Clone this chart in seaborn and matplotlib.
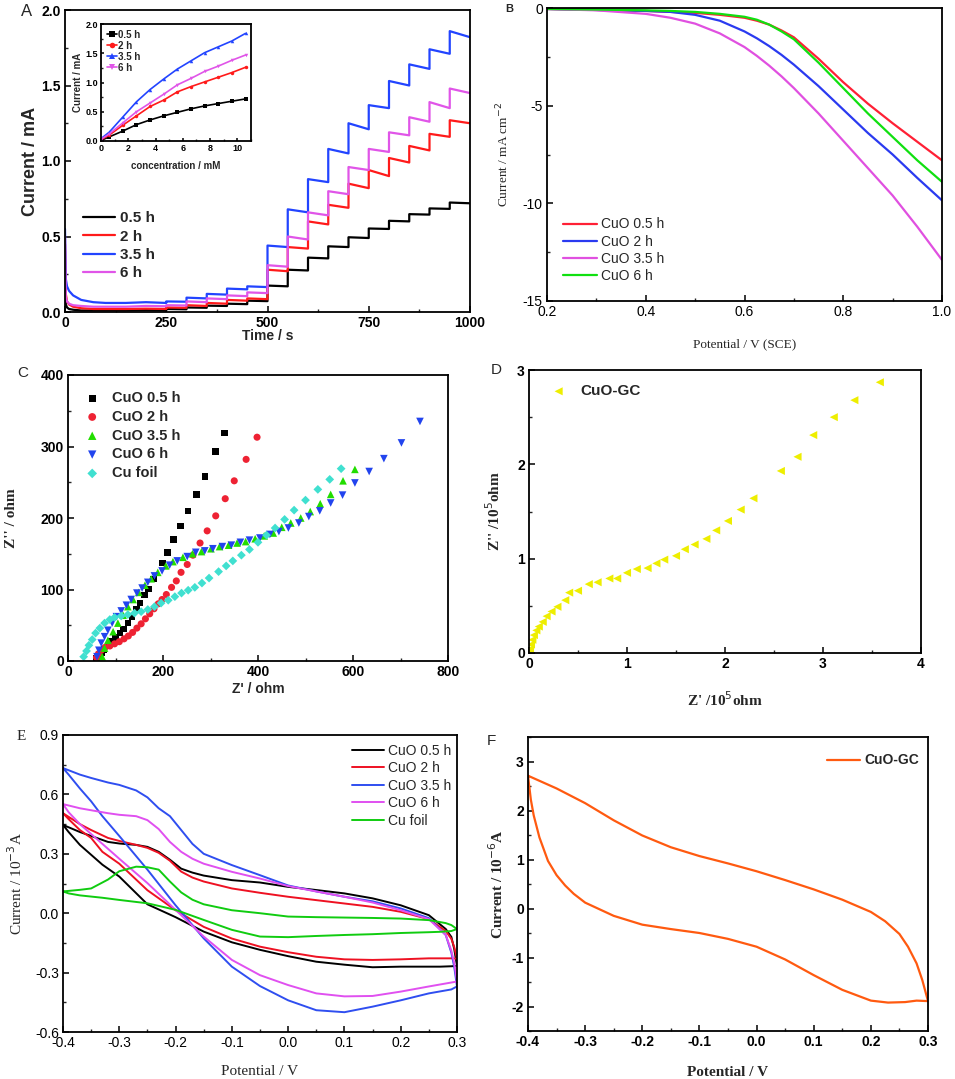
import matplotlib
matplotlib.use("Agg")
import matplotlib.pyplot as plt
import seaborn as sns
from matplotlib.ticker import MultipleLocator

# ---------------- DATA ----------------
# A: chronoamperometry, transient part then 50 s steps
a_t_early = [0, 2, 5, 10, 20, 40, 70, 100, 150]
a_black_early = [0.30, 0.05, 0.03, 0.02, 0.015, 0.01, 0.01, 0.01, 0.01]
a_red_early = [0.45, 0.12, 0.07, 0.05, 0.035, 0.025, 0.02, 0.02, 0.02]
a_blue_early = [0.55, 0.22, 0.17, 0.14, 0.11, 0.08, 0.065, 0.06, 0.06]
a_mag_early = [0.50, 0.10, 0.07, 0.055, 0.045, 0.04, 0.035, 0.035, 0.035]

a_step_t = [200, 250, 300, 350, 400, 450, 500, 550, 600, 650, 700, 750, 800, 850, 900, 950]
a_black_start = [0.012, 0.02, 0.03, 0.042, 0.055, 0.075, 0.175, 0.28, 0.36, 0.435, 0.495, 0.553, 0.604, 0.648, 0.686, 0.725]
a_black_end = [0.01, 0.018, 0.028, 0.04, 0.052, 0.072, 0.17, 0.275, 0.355, 0.43, 0.49, 0.55, 0.60, 0.645, 0.683, 0.72]
a_red_start = [0.022, 0.03, 0.045, 0.06, 0.08, 0.09, 0.28, 0.43, 0.60, 0.71, 0.85, 0.94, 1.02, 1.10, 1.18, 1.27]
a_red_end = [0.02, 0.028, 0.04, 0.055, 0.075, 0.085, 0.27, 0.42, 0.58, 0.69, 0.82, 0.90, 0.99, 1.07, 1.16, 1.25]
a_blue_start = [0.065, 0.07, 0.095, 0.12, 0.155, 0.17, 0.44, 0.68, 0.88, 1.08, 1.25, 1.37, 1.53, 1.64, 1.74, 1.86]
a_blue_end = [0.06, 0.068, 0.09, 0.115, 0.15, 0.165, 0.43, 0.66, 0.86, 1.05, 1.21, 1.35, 1.50, 1.61, 1.71, 1.82]
a_mag_start = [0.04, 0.045, 0.07, 0.09, 0.11, 0.13, 0.31, 0.50, 0.66, 0.80, 0.96, 1.08, 1.19, 1.29, 1.39, 1.48]
a_mag_end = [0.038, 0.043, 0.065, 0.085, 0.105, 0.125, 0.30, 0.48, 0.64, 0.78, 0.94, 1.06, 1.17, 1.26, 1.35, 1.45]
a_labels = ["0.5 h", "2 h", "3.5 h", "6 h"]

# A inset: calibration
ins_conc = [0, 0.6, 1.6, 2.6, 3.6, 4.6, 5.6, 6.6, 7.6, 8.6, 9.6, 10.6]
ins_black = [0.01, 0.07, 0.17, 0.28, 0.36, 0.43, 0.49, 0.55, 0.60, 0.64, 0.68, 0.72]
ins_red = [0.02, 0.10, 0.27, 0.43, 0.59, 0.70, 0.84, 0.93, 1.01, 1.09, 1.17, 1.26]
ins_blue = [0.04, 0.15, 0.41, 0.67, 0.88, 1.06, 1.23, 1.37, 1.51, 1.61, 1.71, 1.84]
ins_mag = [0.03, 0.12, 0.31, 0.50, 0.65, 0.80, 0.96, 1.07, 1.19, 1.28, 1.38, 1.47]

# B: LSV
b_pot = [0.2, 0.3, 0.4, 0.45, 0.5, 0.55, 0.6, 0.625, 0.65, 0.675, 0.7, 0.725, 0.75, 0.8, 0.85, 0.9, 0.95, 1.0]
b_05h = [-0.05, -0.1, -0.15, -0.2, -0.25, -0.35, -0.5, -0.65, -0.85, -1.15, -1.5, -2.05, -2.6, -3.8, -4.9, -5.9, -6.85, -7.8]
b_2h = [-0.05, -0.1, -0.15, -0.2, -0.35, -0.65, -1.2, -1.55, -1.95, -2.4, -2.9, -3.45, -4.0, -5.2, -6.4, -7.5, -8.7, -9.85]
b_35h = [-0.05, -0.12, -0.3, -0.5, -0.8, -1.3, -2.0, -2.45, -2.95, -3.5, -4.1, -4.75, -5.4, -6.8, -8.2, -9.6, -11.2, -12.9]
b_6h = [-0.05, -0.08, -0.12, -0.15, -0.2, -0.3, -0.45, -0.6, -0.85, -1.2, -1.6, -2.2, -2.8, -4.1, -5.4, -6.6, -7.8, -8.9]
b_labels = ["CuO 0.5 h", "CuO 2 h", "CuO 3.5 h", "CuO 6 h"]

# C: Nyquist plots
c_05h_x = [330, 311, 288, 270, 253, 237, 222, 210, 199, 180, 170, 161, 152, 144, 135, 126, 117, 109, 100, 92, 84, 76, 70, 64, 60]
c_05h_y = [319, 293, 258, 233, 210, 189, 170, 152, 137, 115, 101, 92, 81, 72, 62, 53, 45, 39, 33, 27, 21, 16, 11, 7, 4]
c_2h_x = [398, 375, 350, 331, 311, 293, 278, 263, 251, 238, 228, 218, 207, 198, 190, 181, 172, 163, 154, 145, 136, 127, 118, 108, 98, 88, 78, 70, 64, 60]
c_2h_y = [313, 282, 252, 227, 203, 182, 165, 148, 135, 124, 112, 103, 93, 86, 80, 73, 66, 59, 52, 46, 40, 35, 31, 27, 24, 21, 19, 15, 10, 5]
c_35h_x = [604, 579, 553, 531, 510, 490, 469, 450, 432, 413, 394, 374, 356, 338, 319, 301, 281, 262, 242, 221, 206, 189, 175, 162, 149, 137, 126, 116, 105, 95, 84, 77, 72]
c_35h_y = [268, 252, 233, 220, 209, 200, 193, 187, 179, 175, 171, 167, 165, 162, 160, 157, 153, 150, 145, 139, 133, 124, 115, 106, 96, 86, 76, 64, 53, 41, 29, 18, 6]
c_6h_x = [741, 702, 665, 634, 604, 578, 553, 530, 507, 486, 464, 444, 425, 404, 382, 363, 344, 325, 305, 288, 269, 251, 230, 214, 198, 182, 168, 156, 145, 133, 123, 112, 102, 93, 84, 77, 70, 65, 61]
c_6h_y = [335, 305, 283, 265, 249, 232, 221, 210, 202, 193, 186, 181, 177, 172, 169, 166, 162, 160, 157, 154, 152, 146, 140, 134, 126, 119, 110, 102, 95, 86, 78, 70, 62, 53, 43, 34, 25, 15, 6]
c_foil_x = [575, 551, 526, 500, 476, 456, 436, 418, 400, 382, 365, 347, 333, 317, 297, 282, 267, 253, 239, 225, 211, 196, 182, 168, 154, 140, 126, 112, 98, 88, 77, 67, 58, 51, 44, 39, 33]
c_foil_y = [269, 254, 240, 225, 211, 198, 186, 176, 166, 156, 148, 140, 133, 125, 116, 109, 103, 99, 95, 90, 85, 81, 76, 72, 69, 67, 65, 63, 61, 58, 53, 46, 39, 30, 22, 14, 6]

# D: Nyquist CuO-GC (10^5 ohm)
d_x = [3.58, 3.32, 3.11, 2.90, 2.74, 2.57, 2.29, 2.16, 2.03, 1.91, 1.81, 1.69, 1.59, 1.50, 1.38, 1.30, 1.21, 1.10, 1.00, 0.90, 0.82, 0.70, 0.61, 0.50, 0.41, 0.37, 0.29, 0.23, 0.18, 0.14, 0.10, 0.075, 0.05, 0.034, 0.02, 0.01, 0.003]
d_y = [2.87, 2.68, 2.50, 2.31, 2.08, 1.93, 1.64, 1.52, 1.40, 1.30, 1.21, 1.15, 1.10, 1.03, 0.99, 0.95, 0.90, 0.89, 0.85, 0.79, 0.79, 0.75, 0.73, 0.66, 0.64, 0.56, 0.49, 0.44, 0.39, 0.33, 0.28, 0.24, 0.19, 0.14, 0.09, 0.04, 0.007]

# E: CV loops (anodic branch -0.4 -> 0.3, then cathodic branch 0.3 -> -0.4), 10^-3 A
e_pot_up = [-0.4, -0.37, -0.35, -0.32, -0.3, -0.27, -0.25, -0.23, -0.21, -0.19, -0.17, -0.15,
            -0.1, -0.05, 0.0, 0.05, 0.1, 0.15, 0.2, 0.25, 0.28, 0.29, 0.295, 0.3]
e_pot_down = [0.3, 0.29, 0.27, 0.25, 0.2, 0.15, 0.1, 0.05, 0.0, -0.05, -0.1, -0.15, -0.2, -0.25,
              -0.3, -0.33, -0.35, -0.37, -0.39, -0.4]
e_05h_up = [0.446, 0.41, 0.39, 0.36, 0.352, 0.345, 0.335, 0.31, 0.27, 0.225, 0.205, 0.19,
            0.167, 0.155, 0.133, 0.117, 0.10, 0.075, 0.04, -0.01, -0.08, -0.12, -0.18, -0.266]
e_05h_down = [-0.266, -0.268, -0.27, -0.27, -0.27, -0.273, -0.26, -0.245, -0.217, -0.185, -0.147, -0.093,
              -0.02, 0.045, 0.185, 0.245, 0.295, 0.345, 0.41, 0.446]
e_2h_up = [0.505, 0.45, 0.42, 0.38, 0.365, 0.345, 0.33, 0.305, 0.265, 0.21, 0.18, 0.16,
           0.125, 0.103, 0.083, 0.066, 0.049, 0.032, 0.007, -0.03, -0.09, -0.13, -0.17, -0.23]
e_2h_down = [-0.23, -0.228, -0.228, -0.228, -0.233, -0.236, -0.233, -0.22, -0.197, -0.169, -0.128, -0.069,
             0.015, 0.116, 0.25, 0.31, 0.38, 0.42, 0.475, 0.505]
e_35h_up = [0.733, 0.70, 0.683, 0.66, 0.648, 0.62, 0.585, 0.53, 0.49, 0.42, 0.35, 0.30,
            0.243, 0.192, 0.14, 0.11, 0.083, 0.06, 0.024, -0.025, -0.11, -0.2, -0.27, -0.37]
e_35h_down = [-0.37, -0.385, -0.395, -0.405, -0.44, -0.472, -0.50, -0.49, -0.44, -0.368, -0.27, -0.127,
              0.04, 0.22, 0.39, 0.49, 0.565, 0.63, 0.70, 0.733]
e_6h_up = [0.551, 0.53, 0.52, 0.505, 0.497, 0.49, 0.47, 0.425, 0.36, 0.31, 0.275, 0.25,
           0.209, 0.175, 0.137, 0.11, 0.083, 0.054, 0.015, -0.03, -0.11, -0.19, -0.25, -0.345]
e_6h_down = [-0.345, -0.35, -0.36, -0.37, -0.396, -0.418, -0.42, -0.405, -0.363, -0.313, -0.236, -0.118,
             0.017, 0.152, 0.275, 0.35, 0.40, 0.45, 0.51, 0.551]
e_foil_up = [0.11, 0.118, 0.125, 0.17, 0.212, 0.235, 0.232, 0.22, 0.16, 0.105, 0.068, 0.045,
             0.015, 0.0, -0.017, -0.02, -0.022, -0.024, -0.027, -0.035, -0.05, -0.06, -0.07, -0.08]
e_foil_down = [-0.08, -0.09, -0.094, -0.096, -0.10, -0.106, -0.11, -0.115, -0.121, -0.118, -0.084, -0.034,
               0.017, 0.05, 0.067, 0.078, 0.084, 0.09, 0.10, 0.11]
e_labels = ["CuO 0.5 h", "CuO 2 h", "CuO 3.5 h", "CuO 6 h", "Cu foil"]

# F: CV CuO-GC (10^-6 A)
f_pot_up = [-0.4, -0.35, -0.3, -0.25, -0.2, -0.15, -0.1, -0.05, 0.0, 0.05, 0.1, 0.15, 0.2, 0.225,
            0.25, 0.265, 0.28, 0.29, 0.3]
f_cur_up = [2.71, 2.45, 2.15, 1.80, 1.49, 1.25, 1.07, 0.92, 0.76, 0.58, 0.39, 0.18, -0.07, -0.26,
            -0.52, -0.78, -1.12, -1.46, -1.89]
f_pot_down = [0.3, 0.28, 0.26, 0.23, 0.2, 0.15, 0.1, 0.05, 0.0, -0.05, -0.1, -0.15, -0.2, -0.25,
              -0.3, -0.32, -0.335, -0.35, -0.365, -0.38, -0.39, -0.395, -0.4]
f_cur_down = [-1.89, -1.88, -1.91, -1.92, -1.88, -1.66, -1.36, -1.04, -0.78, -0.62, -0.50, -0.42, -0.33, -0.15,
              0.12, 0.30, 0.47, 0.68, 0.97, 1.45, 1.90, 2.22, 2.71]

# ---------------- STYLE ----------------
sns.set_theme(style="ticks")
plt.rcParams['font.family'] = ['Liberation Sans', 'DejaVu Sans']
plt.rcParams['axes.unicode_minus'] = False
plt.rcParams['axes.linewidth'] = 1.3
SERIF = ['Liberation Serif', 'DejaVu Serif']

W, H = 955, 1079
fig = plt.figure(figsize=(W / 100, H / 100), dpi=100)


def ax_at(l, t, r, b):
    return fig.add_axes([l / W, 1 - b / H, (r - l) / W, (b - t) / H])


def ticks(ax, xt, yt, xmin, ymin, xfmt, yfmt, size=10, weight='bold'):
    ax.set_xticks(xt)
    ax.set_yticks(yt)
    ax.set_xticklabels([xfmt.format(v) for v in xt], fontsize=size, fontweight=weight)
    ax.set_yticklabels([yfmt.format(v) for v in yt], fontsize=size, fontweight=weight)
    ax.xaxis.set_minor_locator(MultipleLocator(xmin))
    ax.yaxis.set_minor_locator(MultipleLocator(ymin))
    ax.tick_params(which='major', direction='in', length=4, width=1.1, pad=3, colors='black')
    ax.tick_params(which='minor', direction='in', length=2.5, width=1.0)
    for s in ax.spines.values():
        s.set_color('black')


def step_series(early, starts, ends):
    xs = list(a_t_early)
    ys = list(early)
    for t0, s, e in zip(a_step_t, starts, ends):
        xs += [t0, t0 + 50]
        ys += [s, e]
    return xs, ys


# ---------------- A ----------------
axA = ax_at(65, 10, 470, 312)
a_cols = ['black', '#ff1a1a', '#2244ff', '#e055e8']
for lab, col, early, st, en in zip(a_labels, a_cols,
                                   [a_black_early, a_red_early, a_blue_early, a_mag_early],
                                   [a_black_start, a_red_start, a_blue_start, a_mag_start],
                                   [a_black_end, a_red_end, a_blue_end, a_mag_end]):
    xs, ys = step_series(early, st, en)
    sns.lineplot(x=xs, y=ys, color=col, lw=1.6, estimator=None, sort=False, ax=axA, label=lab)
axA.set_xlim(0, 1000)
axA.set_ylim(0, 2.0)
ticks(axA, [0, 250, 500, 750, 1000], [0, 0.5, 1.0, 1.5, 2.0], 125, 0.25, "{:d}", "{:.1f}")
axA.set_xlabel("Time / s", fontsize=10, fontweight='bold', labelpad=-1)
axA.set_ylabel("Current / mA", fontsize=13, fontweight='bold', labelpad=2)
axA.legend(loc='lower left', bbox_to_anchor=(0.03, 0.085), borderaxespad=0, frameon=False,
           prop={'size': 11, 'weight': 'bold'}, handlelength=2.1, labelspacing=0.28, handletextpad=0.3)
fig.text(27 / W, 1 - 12 / H, "A", fontsize=12, ha='center', va='center')

# inset
axI = ax_at(101, 24, 251, 141)
for lab, col, mk, vals in zip(a_labels, a_cols, ['s', 'o', '^', 'v'], [ins_black, ins_red, ins_blue, ins_mag]):
    sns.lineplot(x=ins_conc, y=vals, color=col, lw=1.2, marker=mk, markersize=2.5, markeredgewidth=0,
                 estimator=None, ax=axI, label=lab)
axI.set_xlim(0, 11)
axI.set_ylim(0, 2.0)
ticks(axI, [0, 2, 4, 6, 8, 10], [0, 0.5, 1.0, 1.5, 2.0], 1, 0.25, "{:d}", "{:.1f}", size=6.5)
axI.tick_params(which='major', length=2.5, pad=2)
axI.tick_params(which='minor', length=1.5)
axI.set_xlabel("concentration / mM", fontsize=7, fontweight='bold', labelpad=6)
axI.set_ylabel("Current / mA", fontsize=7, fontweight='bold', labelpad=2)
axI.legend(loc='upper left', frameon=False, prop={'size': 7, 'weight': 'bold'}, handlelength=1.0,
           labelspacing=0.1, handletextpad=0.1, borderaxespad=0.2, markerscale=1.6)

# ---------------- B ----------------
axB = ax_at(547, 8, 942, 301)
b_cols = ['#ff2035', '#2a3af0', '#e050e0', '#10e010']
for lab, col, vals in zip(b_labels, b_cols, [b_05h, b_2h, b_35h, b_6h]):
    sns.lineplot(x=b_pot, y=vals, color=col, lw=1.6, estimator=None, ax=axB, label=lab)
axB.set_xlim(0.2, 1.0)
axB.set_ylim(-15, 0)
ticks(axB, [0.2, 0.4, 0.6, 0.8, 1.0], [0, -5, -10, -15], 0.1, 2.5, "{:.1f}", "{:d}", size=10, weight='normal')
axB.set_xlabel("Potential / V (SCE)", fontsize=9.5, family=SERIF, labelpad=14)
axB.set_ylabel("Current / mA cm$^{-2}$", fontsize=9.5, family=SERIF, labelpad=8)
axB.legend(loc='lower left', bbox_to_anchor=(0.01, 0.02), frameon=False, prop={'size': 10},
           handlelength=2.4, labelspacing=0.22, handletextpad=0.3)
fig.text(509 / W, 1 - 9 / H, "B", fontsize=8, fontweight='bold', ha='center', va='center')

# ---------------- C ----------------
axC = ax_at(68, 375, 448, 661)
c_sets = [
    ("CuO 0.5 h", c_05h_x, c_05h_y, 's', 'black', 22),
    ("CuO 2 h", c_2h_x, c_2h_y, 'o', '#ee2233', 26),
    ("CuO 3.5 h", c_35h_x, c_35h_y, '^', '#22dd00', 30),
    ("CuO 6 h", c_6h_x, c_6h_y, 'v', '#2244ee', 30),
    ("Cu foil", c_foil_x, c_foil_y, 'D', '#40e0d0', 20),
]
for lab, xs, ys, mk, col, sz in c_sets:
    sns.scatterplot(x=xs, y=ys, marker=mk, color=col, s=sz, edgecolor='none', ax=axC, label=lab)
axC.set_xlim(0, 800)
axC.set_ylim(0, 400)
ticks(axC, [0, 200, 400, 600, 800], [0, 100, 200, 300, 400], 100, 50, "{:d}", "{:d}")
axC.set_xlabel("Z' / ohm", fontsize=10, fontweight='bold', labelpad=2)
axC.set_ylabel("Z'' / ohm", fontsize=11, fontweight='bold', family=SERIF, labelpad=16)
axC.legend(loc='upper left', bbox_to_anchor=(0.01, 0.99), frameon=False, prop={'size': 10.5, 'weight': 'bold'},
           handlelength=1.0, labelspacing=0.33, handletextpad=0.87, markerscale=1.1)
fig.text(23 / W, 1 - 373 / H, "C", fontsize=11, ha='center', va='center')

# ---------------- D ----------------
axD = ax_at(529, 370, 921, 653)
sns.scatterplot(x=d_x, y=d_y, marker='<', color='#eeee00', s=34, edgecolor='none', ax=axD, label="CuO-GC")
axD.set_xlim(0, 4)
axD.set_ylim(0, 3)
ticks(axD, [0, 1, 2, 3, 4], [0, 1, 2, 3], 0.5, 0.5, "{:d}", "{:d}")
axD.set_xlabel("Z' /10$^{5}$ohm", fontsize=11, fontweight='bold', family=SERIF, labelpad=14)
axD.set_ylabel("Z'' /10$^{5}$ohm", fontsize=11, fontweight='bold', family=SERIF, labelpad=10)
axD.legend(loc='upper left', bbox_to_anchor=(0.021, 0.998), frameon=False, prop={'size': 11, 'weight': 'bold'},
           handlelength=1.0, handletextpad=0.95)
fig.text(496 / W, 1 - 370 / H, "D", fontsize=11, ha='center', va='center')

# ---------------- E ----------------
axE = ax_at(63, 735, 457, 1032)
e_cols = ['black', '#ee1122', '#2f4ef0', '#e050f0', '#10cc10']
e_up = [e_05h_up, e_2h_up, e_35h_up, e_6h_up, e_foil_up]
e_down = [e_05h_down, e_2h_down, e_35h_down, e_6h_down, e_foil_down]
for lab, col, up, dn in zip(e_labels, e_cols, e_up, e_down):
    sns.lineplot(x=e_pot_up + e_pot_down, y=up + dn, color=col, lw=1.4, estimator=None, sort=False,
                 ax=axE, label=lab)
axE.set_xlim(-0.4, 0.3)
axE.set_ylim(-0.6, 0.9)
ticks(axE, [-0.4, -0.3, -0.2, -0.1, 0.0, 0.1, 0.2, 0.3], [-0.6, -0.3, 0.0, 0.3, 0.6, 0.9], 0.05, 0.15,
      "{:.1f}", "{:.1f}", size=10, weight='normal')
axE.set_xlabel("Potential / V", fontsize=11, family=SERIF, labelpad=11)
axE.set_ylabel("Current / 10$^{-3}$A", fontsize=11, family=SERIF, labelpad=7)
axE.legend(loc='upper right', bbox_to_anchor=(1.0, 0.99), borderaxespad=0, frameon=False, prop={'size': 10},
           handlelength=2.3, labelspacing=0.26, handletextpad=0.3)
fig.text(21 / W, 1 - 736 / H, "E", fontsize=11, family=SERIF, ha='center', va='center')

# ---------------- F ----------------
axF = ax_at(528, 737, 928, 1031)
sns.lineplot(x=f_pot_up + f_pot_down, y=f_cur_up + f_cur_down, color='#ff5a10', lw=1.6, estimator=None,
             sort=False, ax=axF, label="CuO-GC")
axF.set_xlim(-0.4, 0.3)
axF.set_ylim(-2.5, 3.5)
ticks(axF, [-0.4, -0.3, -0.2, -0.1, 0.0, 0.1, 0.2, 0.3], [-2, -1, 0, 1, 2, 3], 0.05, 0.5,
      "{:.1f}", "{:d}")
axF.set_xlabel("Potential / V", fontsize=11, fontweight='bold', family=SERIF, labelpad=12)
axF.set_ylabel("Current / 10$^{-6}$A", fontsize=11, fontweight='bold', family=SERIF, labelpad=4)
axF.legend(loc='upper right', bbox_to_anchor=(1.0, 0.975), frameon=False, prop={'size': 10, 'weight': 'bold'},
           handlelength=2.4, handletextpad=0.3, borderaxespad=0.25)
fig.text(491 / W, 1 - 741 / H, "F", fontsize=11, ha='center', va='center')

fig.savefig("out.png", dpi=100)
